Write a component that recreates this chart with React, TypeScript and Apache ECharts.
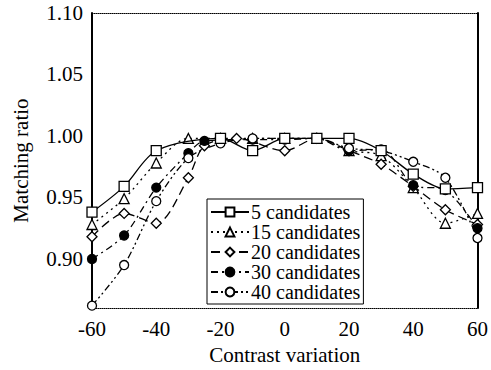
import React, { useEffect, useRef } from "react";
import * as echarts from "echarts";

const xTicks = [-60, -40, -20, 0, 20, 40, 60];
const yLabelValues = [0.9, 0.95, 1.0, 1.05, 1.1];

const seriesNames = ["5 candidates", "15 candidates", "20 candidates", "30 candidates", "40 candidates"];

const x5 = [-60, -50, -40, -20, -10, 0, 10, 20, 30, 40, 50, 60];
const y5 = [0.938, 0.959, 0.988, 0.998, 0.988, 0.998, 0.998, 0.998, 0.988, 0.969, 0.957, 0.958];

const x15 = [-60, -50, -40, -30, -20, -10, 0, 10, 20, 30, 40, 50, 60];
const y15 = [0.928, 0.949, 0.978, 0.998, 0.998, 0.998, 0.998, 0.998, 0.988, 0.984, 0.958, 0.929, 0.937];

const x20 = [-60, -50, -40, -30, -25, -15, 0, 10, 20, 30, 40, 50, 60];
const y20 = [0.918, 0.937, 0.929, 0.966, 0.992, 0.998, 0.988, 0.998, 0.988, 0.977, 0.959, 0.94, 0.928];

const x30 = [-60, -50, -40, -30, -25, -10, 0, 10, 20, 30, 40, 50, 60];
const y30 = [0.9, 0.919, 0.958, 0.986, 0.996, 0.997, 0.997, 0.998, 0.988, 0.989, 0.96, 0.956, 0.925];

const x40 = [-60, -50, -40, -30, -20, -10, 0, 10, 20, 30, 40, 50, 60];
const y40 = [0.862, 0.895, 0.947, 0.982, 0.994, 0.998, 0.998, 0.998, 0.99, 0.988, 0.979, 0.966, 0.917];

const FONT = "Liberation Serif, Times New Roman, serif";

function pairs(xs: number[], ys: number[]) {
  return xs.map((x, i) => [x, ys[i]]);
}

export default function App() {
  const ref = useRef<HTMLDivElement>(null);
  useEffect(() => {
    if (!ref.current) return;
    const chart = echarts.init(ref.current, null, { renderer: "svg" });
    const markerStyle = (fill: string) => ({ color: fill, borderColor: "#000", borderWidth: 1.3 });
    const common = {
      type: "line" as const,
      smooth: 0.3,
      symbolSize: 10,
      xAxisIndex: 0,
      yAxisIndex: 0,
    };
    chart.setOption({
      animation: false,
      backgroundColor: "#fff",
      textStyle: { fontFamily: FONT },
      grid: { left: 92, right: 11, top: 13, bottom: 55, containLabel: false },
      legend: {
        left: 207,
        top: 199,
        orient: "vertical",
        backgroundColor: "#fff",
        borderColor: "#000",
        borderWidth: 1,
        padding: [3, 3, 2, 3],
        itemWidth: 38,
        itemHeight: 11,
        itemGap: 0,
        textStyle: { fontFamily: FONT, fontSize: 20, color: "#000", padding: [0, 0, 0, -3] },
        data: seriesNames,
      },
      xAxis: [
        {
          type: "value",
          min: -60,
          max: 60,
          interval: 20,
          position: "bottom",
          name: "Contrast variation",
          nameLocation: "middle",
          nameGap: 29,
          nameTextStyle: { fontFamily: FONT, fontSize: 21, color: "#000" },
          axisLine: { show: true, onZero: false, lineStyle: { color: "#000", width: 1, type: "dotted" } },
          axisTick: { show: false },
          splitLine: { show: false },
          axisLabel: {
            fontFamily: FONT,
            fontSize: 21,
            color: "#000",
            margin: 10,
            formatter: (v: number) => (xTicks.includes(Math.round(v)) ? String(Math.round(v)) : ""),
          },
        },
        {
          type: "value",
          min: -60,
          max: 60,
          position: "top",
          axisLine: { show: true, onZero: false, lineStyle: { color: "#000", width: 1, type: "dotted" } },
          axisTick: { show: false },
          axisLabel: { show: false },
          splitLine: { show: false },
        },
      ],
      yAxis: [
        {
          type: "value",
          min: 0.86,
          max: 1.1,
          interval: 0.01,
          position: "left",
          name: "Matching ratio",
          nameLocation: "middle",
          nameGap: 61,
          nameTextStyle: { fontFamily: FONT, fontSize: 21, color: "#000" },
          axisLine: { show: true, onZero: false, lineStyle: { color: "#000", width: 2 } },
          axisTick: { show: false },
          splitLine: { show: false },
          axisLabel: {
            fontFamily: FONT,
            fontSize: 21,
            color: "#000",
            margin: 9,
            formatter: (v: number) => {
              const hit = yLabelValues.find((t) => Math.abs(t - v) < 1e-6);
              return hit !== undefined ? hit.toFixed(2) : "";
            },
          },
        },
        {
          type: "value",
          min: 0.86,
          max: 1.1,
          position: "right",
          axisLine: { show: true, onZero: false, lineStyle: { color: "#000", width: 2 } },
          axisTick: { show: false },
          axisLabel: { show: false },
          splitLine: { show: false },
        },
      ],
      series: [
        {
          ...common,
          name: seriesNames[0],
          data: pairs(x5, y5),
          symbol: "rect",
          symbolSize: 10,
          lineStyle: { color: "#000", width: 1.3, type: "solid" },
          itemStyle: markerStyle("#fff"),
          z: 5,
        },
        {
          ...common,
          name: seriesNames[1],
          data: pairs(x15, y15),
          symbol: "triangle",
          symbolSize: 10,
          lineStyle: { color: "#000", width: 1.3, type: [2, 4] },
          itemStyle: markerStyle("#fff"),
        },
        {
          ...common,
          name: seriesNames[2],
          data: pairs(x20, y20),
          symbol: "diamond",
          symbolSize: 10,
          lineStyle: { color: "#000", width: 1.3, type: [9, 5] },
          itemStyle: markerStyle("#fff"),
        },
        {
          ...common,
          name: seriesNames[3],
          data: pairs(x30, y30),
          symbol: "circle",
          symbolSize: 9,
          lineStyle: { color: "#000", width: 1.3, type: [7, 4, 2, 4] },
          itemStyle: markerStyle("#000"),
        },
        {
          ...common,
          name: seriesNames[4],
          data: pairs(x40, y40),
          symbol: "circle",
          symbolSize: 9,
          lineStyle: { color: "#000", width: 1.3, type: [7, 3, 2, 3, 2, 3] },
          itemStyle: markerStyle("#fff"),
        },
      ],
    });
    return () => chart.dispose();
  }, []);
  return <div ref={ref} style={{ width: 491, height: 370, position: "absolute", left: 0, top: 0 }} />;
}
